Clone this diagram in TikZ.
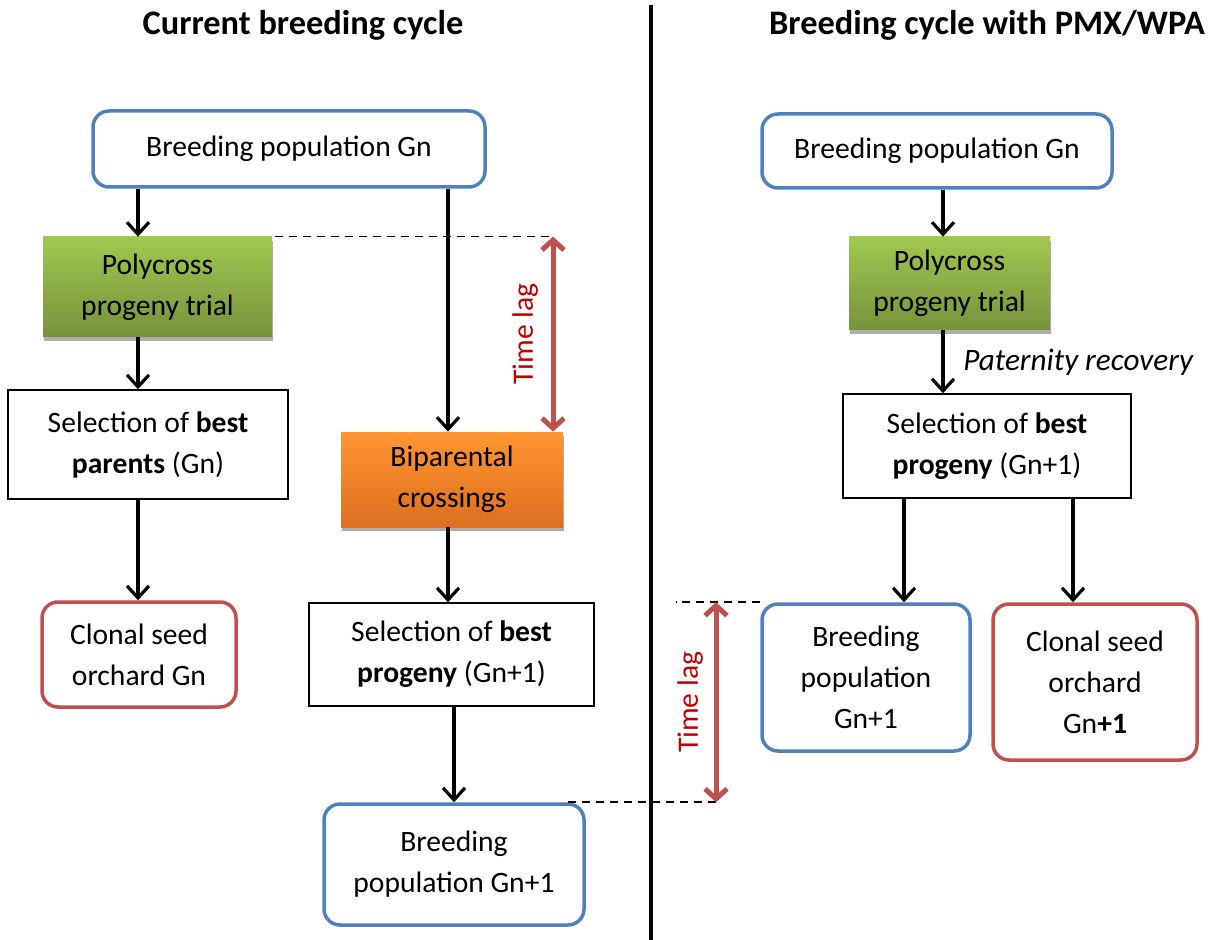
\documentclass[tikz,border=0pt]{standalone}
\usepackage{fontspec}
\setmainfont{Carlito}
\usepackage{tikz}
\usetikzlibrary{arrows.meta,positioning,calc,shadows}
\definecolor{boxblue}{RGB}{79,129,189}
\definecolor{boxred}{RGB}{192,80,77}
\definecolor{lagred}{RGB}{192,0,0}
\definecolor{greentop}{RGB}{160,200,80}
\definecolor{greenbot}{RGB}{118,146,60}
\definecolor{orangetop}{RGB}{255,150,50}
\definecolor{orangebot}{RGB}{220,110,30}
\tikzset{
    font={\fontsize{14.8pt}{20.5pt}\selectfont},
    boxsize/.style 2 args={minimum width=#1pt, minimum height=#2pt},
    box/.style={
        rectangle,
        align=center,
        inner sep=2pt
    },
    bluebox/.style={box, draw=boxblue, line width=1.75pt, rounded corners=8pt},
    redbox/.style={box, draw=boxred, line width=1.75pt, rounded corners=8pt},
    plainbox/.style={box, draw=black, line width=0.75pt},
    shadebox/.style={
        box,
        drop shadow={shadow xshift=0.5pt, shadow yshift=-2pt,
                     fill=black!45, opacity=0.7}
    },
    greenbox/.style={shadebox, top color=greentop, bottom color=greenbot},
    orangebox/.style={shadebox, top color=orangetop, bottom color=orangebot},
    title/.style={font={\fontsize{17.2pt}{20pt}\selectfont\bfseries}},
    line/.style={draw, line width=1.6pt, -{Straight Barb[length=6pt,width=11pt]}},
    lagarrow/.style={draw=boxred, line width=2.5pt,
        {Straight Barb[length=5pt,width=11pt]}-{Straight Barb[length=5pt,width=11pt]}},
    lagtext/.style={text=lagred, rotate=90},
    dashline/.style={draw, line width=0.85pt, dash pattern=on 4pt off 3pt},
}

\begin{document}
\begin{tikzpicture}[x=0.5pt, y=-0.5pt]
    \useasboundingbox (0,0) rectangle (1208,940);

    % titles and divider
    \node[title] (tleft)  at (303,25) {Current breeding cycle};
    \node[title] (tright) at (987,25) {Breeding cycle with PMX/WPA};
    \draw[line width=2pt] (651,5) -- (651,940);

    % current breeding cycle
    \node[bluebox, boxsize={196}{38}]    (bpGn)      at (289,149)   {Breeding population Gn};
    \node[greenbox, boxsize={114.5}{50}] (polyL)     at (157.5,287) {Polycross\\progeny trial};
    \node[plainbox, boxsize={140}{54.5}] (selPar)    at (148,444.5) {Selection of \textbf{best}\\\textbf{parents} (Gn)};
    \node[redbox, boxsize={97}{52.5}]    (csoGn)     at (139,654.5) {Clonal seed\\orchard Gn};
    \node[orangebox, boxsize={111}{47.5}] (bipar)    at (452,479.5) {Biparental\\crossings};
    \node[plainbox, boxsize={142.5}{51.5}] (selProgL) at (451.5,654.5) {Selection of \textbf{best}\\\textbf{progeny} (Gn+1)};
    \node[bluebox, boxsize={130}{60.5}]  (bpGnL)     at (454,864.5) {Breeding\\population Gn+1};

    % breeding cycle with PMX/WPA
    \node[bluebox, boxsize={175}{37}]    (bpGnR)     at (937,151)   {Breeding population Gn};
    \node[greenbox, boxsize={100.5}{46.5}] (polyR)   at (949.5,283.5) {Polycross\\progeny trial};
    \node[plainbox, boxsize={144}{52}]   (selProgR)  at (987,446)   {Selection of \textbf{best}\\\textbf{progeny} (Gn+1)};
    \node[bluebox, boxsize={104}{73.5}]  (bpGnR1)    at (866,677.5) {Breeding\\population\\Gn+1};
    \node[redbox, boxsize={102}{78}]     (csoGn1)    at (1095,682)  {Clonal seed\\orchard\\Gn\textbf{+1}};

    % x positions of the arrows
    \coordinate (xl)  at (138,0);
    \coordinate (xm)  at (448,0);
    \coordinate (xr)  at (943,0);
    \coordinate (xr1) at (904,0);
    \coordinate (xr2) at (1073,0);
    \coordinate (lag1) at (553,0);
    \coordinate (lag2) at (716,0);

    \path[line] (bpGn.south -| xl) -- (polyL.north -| xl);
    \path[line] (polyL.south -| xl) -- (selPar.north -| xl);
    \path[line] (selPar.south -| xl) -- (csoGn.north -| xl);
    \path[line] (bpGn.south -| xm) -- (bipar.north -| xm);
    \path[line] (bipar.south -| xm) -- (selProgL.north -| xm);
    \path[line] (selProgL.south -| bpGnL.north) -- (bpGnL.north);

    \path[line] (bpGnR.south -| xr) -- (polyR.north -| xr);
    \path[line] (polyR.south -| xr) -- node[right=6pt, font={\fontsize{15.6pt}{18pt}\selectfont\itshape}] (patrec) {Paternity recovery} (selProgR.north -| xr);
    \path[line] (selProgR.south -| xr1) -- (bpGnR1.north -| xr1);
    \path[line] (selProgR.south -| xr2) -- (csoGn1.north -| xr2);

    % time lags
    \path[dashline] ([xshift=1.5pt]polyL.north east) -- (polyL.north -| lag1);
    \path[lagarrow] (polyL.north -| lag1) -- node[lagtext, anchor=south, yshift=3pt] (lagL) {Time lag} (bipar.north -| lag1);

    \path[dashline] (bpGnR1.north west) -- ([xshift=-20pt]bpGnR1.north -| lag2);
    \path[dashline] ([xshift=-9pt]bpGnL.north east) -- (bpGnL.north -| lag2);
    \path[lagarrow] (bpGnR1.north -| lag2) -- node[lagtext, anchor=south, yshift=2pt] (lagR) {Time lag} (bpGnL.north -| lag2);
\end{tikzpicture}
\end{document}
